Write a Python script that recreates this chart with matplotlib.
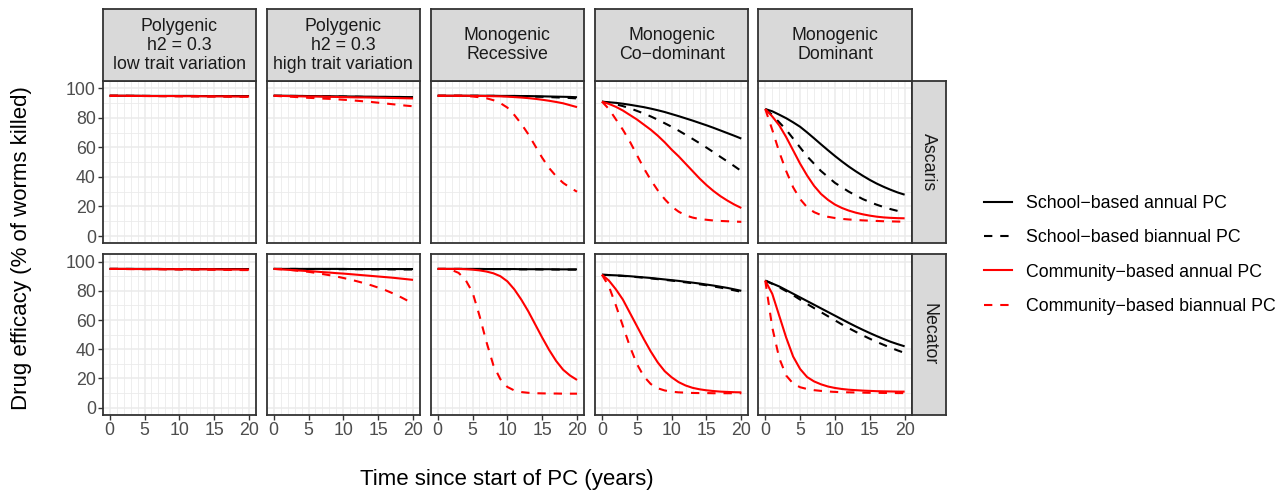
import matplotlib
matplotlib.use("Agg")
import matplotlib.pyplot as plt
from matplotlib.lines import Line2D

plt.rcParams['font.family'] = ['Liberation Sans', 'DejaVu Sans']

# Jahre seit Beginn der PC
years = list(range(21))

col_titles = ["Polygenic\nh2 = 0.3\nlow trait variation",
              "Polygenic\nh2 = 0.3\nhigh trait variation",
              "Monogenic\nRecessive",
              "Monogenic\nCo\u2212dominant",
              "Monogenic\nDominant"]
row_titles = ["Ascaris", "Necator"]
series_labels = ["School\u2212based annual PC", "School\u2212based biannual PC",
                 "Community\u2212based annual PC", "Community\u2212based biannual PC"]

# ---- Ascaris ----
asc_pl_sa = [95.0, 95.0, 95.0, 95.0, 95.0, 94.9, 94.9, 94.9, 94.9, 94.9, 94.9, 94.9, 94.9, 94.8, 94.8, 94.8, 94.8, 94.8, 94.8, 94.8, 94.8]
asc_pl_sb = [95.0, 95.0, 95.0, 94.9, 94.9, 94.9, 94.9, 94.8, 94.8, 94.8, 94.8, 94.8, 94.7, 94.7, 94.7, 94.7, 94.7, 94.6, 94.6, 94.6, 94.6]
asc_pl_ca = [95.0, 95.0, 95.0, 94.9, 94.9, 94.9, 94.8, 94.8, 94.8, 94.8, 94.7, 94.7, 94.7, 94.7, 94.6, 94.6, 94.6, 94.6, 94.5, 94.5, 94.5]
asc_pl_cb = [95.0, 95.0, 94.9, 94.9, 94.9, 94.8, 94.8, 94.8, 94.7, 94.7, 94.7, 94.6, 94.6, 94.6, 94.5, 94.5, 94.5, 94.4, 94.4, 94.3, 94.3]

asc_ph_sa = [95.0, 95.0, 95.0, 94.9, 94.9, 94.8, 94.8, 94.7, 94.7, 94.6, 94.6, 94.5, 94.5, 94.4, 94.4, 94.3, 94.3, 94.2, 94.2, 94.1, 94.1]
asc_ph_sb = [95.0, 95.0, 94.9, 94.9, 94.8, 94.7, 94.7, 94.6, 94.5, 94.5, 94.4, 94.3, 94.3, 94.2, 94.1, 94.0, 93.9, 93.8, 93.7, 93.6, 93.5]
asc_ph_ca = [95.0, 94.9, 94.8, 94.7, 94.6, 94.5, 94.5, 94.4, 94.3, 94.2, 94.1, 94.0, 93.9, 93.9, 93.8, 93.7, 93.6, 93.5, 93.4, 93.3, 93.2]
asc_ph_cb = [95.0, 94.7, 94.5, 94.2, 93.9, 93.6, 93.4, 93.1, 92.9, 92.6, 92.3, 92.0, 91.6, 91.2, 90.8, 90.3, 89.8, 89.3, 88.8, 88.3, 87.9]

asc_mr_sa = [95.0, 95.0, 95.0, 95.0, 95.0, 95.0, 95.0, 95.0, 95.0, 94.9, 94.9, 94.9, 94.8, 94.8, 94.7, 94.6, 94.5, 94.4, 94.3, 94.2, 94.0]
asc_mr_sb = [95.0, 95.0, 95.0, 95.0, 95.0, 95.0, 95.0, 94.9, 94.9, 94.8, 94.8, 94.7, 94.6, 94.5, 94.4, 94.3, 94.1, 93.9, 93.7, 93.5, 93.2]
asc_mr_ca = [95.0, 95.0, 95.0, 95.0, 95.0, 94.9, 94.9, 94.8, 94.7, 94.6, 94.4, 94.1, 93.8, 93.4, 92.9, 92.3, 91.6, 90.8, 89.9, 88.6, 87.3]
asc_mr_cb = [95.0, 95.0, 95.0, 95.0, 94.8, 94.5, 94.0, 93.3, 92.0, 90.0, 87.0, 82.0, 76.0, 69.0, 61.0, 53.0, 46.0, 40.5, 36.0, 32.8, 30.0]

asc_mc_sa = [91.0, 90.6, 90.2, 89.6, 88.9, 88.1, 87.3, 86.3, 85.2, 84.0, 82.6, 81.2, 79.7, 78.2, 76.6, 75.0, 73.3, 71.5, 69.7, 67.9, 66.0]
asc_mc_sb = [91.0, 90.2, 89.2, 88.0, 86.5, 84.8, 83.0, 81.0, 78.8, 76.4, 74.0, 71.4, 68.6, 65.8, 62.9, 59.9, 56.8, 53.6, 50.5, 47.3, 44.0]
asc_mc_ca = [91.0, 89.5, 87.5, 85.0, 82.0, 79.0, 75.5, 72.0, 68.0, 63.5, 58.5, 54.0, 49.0, 44.0, 39.0, 34.5, 30.5, 27.0, 24.0, 21.3, 19.0]
asc_mc_cb = [91.0, 86.0, 79.0, 72.0, 64.0, 55.0, 46.0, 38.0, 31.0, 25.0, 20.0, 16.5, 14.0, 12.5, 11.5, 11.0, 10.5, 10.2, 10.0, 9.8, 9.6]

asc_md_sa = [86.0, 84.5, 82.2, 79.8, 77.0, 74.0, 70.2, 66.2, 62.1, 58.1, 54.2, 50.5, 47.0, 43.8, 40.8, 38.0, 35.5, 33.3, 31.3, 29.5, 28.0]
asc_md_sb = [86.0, 82.0, 77.0, 72.0, 66.0, 60.0, 54.0, 49.0, 44.0, 40.0, 36.0, 33.0, 30.0, 27.5, 25.0, 23.0, 21.2, 19.6, 18.2, 17.0, 16.0]
asc_md_ca = [86.0, 81.0, 75.0, 67.0, 58.0, 49.0, 41.0, 34.0, 28.5, 24.5, 21.3, 19.0, 17.2, 15.8, 14.7, 13.8, 13.1, 12.6, 12.3, 12.1, 12.0]
asc_md_cb = [86.0, 72.0, 57.0, 44.0, 33.0, 25.0, 19.5, 16.2, 14.2, 13.0, 12.2, 11.6, 11.2, 10.9, 10.6, 10.4, 10.2, 10.0, 9.9, 9.8, 9.7]

# ---- Necator ----
nec_pl_sa = [95.0, 95.0, 95.0, 95.0, 95.0, 95.0, 95.0, 95.0, 94.9, 94.9, 94.9, 94.9, 94.9, 94.9, 94.9, 94.9, 94.9, 94.9, 94.9, 94.9, 94.9]
nec_pl_sb = [95.0, 95.0, 95.0, 95.0, 94.9, 94.9, 94.9, 94.9, 94.9, 94.9, 94.8, 94.8, 94.8, 94.8, 94.8, 94.8, 94.8, 94.7, 94.7, 94.7, 94.7]
nec_pl_ca = [95.0, 95.0, 95.0, 94.9, 94.9, 94.9, 94.9, 94.8, 94.8, 94.8, 94.8, 94.8, 94.7, 94.7, 94.7, 94.7, 94.6, 94.6, 94.6, 94.6, 94.5]
nec_pl_cb = [95.0, 95.0, 94.9, 94.9, 94.9, 94.8, 94.8, 94.8, 94.7, 94.7, 94.6, 94.6, 94.6, 94.5, 94.5, 94.4, 94.4, 94.3, 94.3, 94.2, 94.2]

nec_ph_sa = [95.0, 95.0, 95.0, 95.0, 95.0, 95.0, 95.0, 95.0, 95.0, 95.0, 95.0, 94.9, 94.9, 94.9, 94.9, 94.9, 94.9, 94.9, 94.9, 94.9, 94.9]
nec_ph_sb = [95.0, 95.0, 95.0, 95.0, 94.9, 94.9, 94.9, 94.9, 94.9, 94.8, 94.8, 94.8, 94.8, 94.8, 94.7, 94.7, 94.7, 94.7, 94.6, 94.6, 94.6]
nec_ph_ca = [95.0, 94.7, 94.4, 94.1, 93.8, 93.5, 93.2, 92.8, 92.5, 92.1, 91.8, 91.4, 91.0, 90.6, 90.2, 89.8, 89.4, 89.0, 88.5, 88.0, 87.5]
nec_ph_cb = [95.0, 94.8, 94.5, 94.0, 93.5, 93.0, 92.3, 91.5, 90.7, 89.8, 88.8, 87.7, 86.5, 85.2, 83.8, 82.2, 80.5, 78.5, 76.3, 73.8, 71.0]

nec_mr_sa = [95.0, 95.0, 95.0, 95.0, 95.0, 95.0, 95.0, 94.9, 94.9, 94.9, 94.9, 94.9, 94.8, 94.8, 94.8, 94.8, 94.8, 94.7, 94.7, 94.7, 94.7]
nec_mr_sb = [95.0, 95.0, 95.0, 95.0, 95.0, 94.9, 94.9, 94.9, 94.9, 94.8, 94.8, 94.8, 94.7, 94.7, 94.7, 94.6, 94.6, 94.6, 94.5, 94.5, 94.5]
nec_mr_ca = [95.0, 95.0, 95.0, 95.0, 94.8, 94.5, 94.0, 93.2, 92.0, 90.0, 86.5, 81.0, 74.0, 66.0, 57.0, 48.0, 39.5, 32.0, 26.0, 22.0, 19.0]
nec_mr_cb = [95.0, 95.0, 94.3, 92.3, 87.5, 79.0, 63.0, 45.0, 29.0, 19.5, 14.2, 11.8, 10.7, 10.2, 9.9, 9.8, 9.7, 9.7, 9.6, 9.6, 9.6]

nec_mc_sa = [91.0, 90.8, 90.6, 90.3, 90.0, 89.6, 89.2, 88.8, 88.3, 87.8, 87.3, 86.8, 86.2, 85.6, 85.0, 84.3, 83.6, 82.8, 82.0, 81.0, 80.0]
nec_mc_sb = [91.0, 90.8, 90.5, 90.2, 89.8, 89.4, 89.0, 88.5, 88.0, 87.5, 87.0, 86.4, 85.8, 85.2, 84.5, 83.8, 83.0, 82.2, 81.3, 80.3, 79.3]
nec_mc_ca = [91.0, 87.0, 81.0, 74.0, 65.0, 56.0, 47.0, 38.5, 31.0, 25.0, 20.8, 17.5, 15.2, 13.6, 12.6, 11.9, 11.4, 11.0, 10.8, 10.6, 10.5]
nec_mc_cb = [91.0, 83.0, 70.0, 56.0, 42.0, 30.0, 21.5, 16.2, 13.3, 11.8, 11.0, 10.5, 10.3, 10.1, 10.0, 10.0, 9.9, 9.9, 9.9, 9.9, 9.9]

nec_md_sa = [87.0, 85.0, 83.0, 80.5, 78.0, 75.5, 73.0, 70.5, 68.0, 65.5, 63.0, 60.5, 58.0, 55.6, 53.3, 51.1, 49.0, 47.0, 45.1, 43.5, 42.0]
nec_md_sb = [87.0, 84.8, 82.4, 79.8, 77.0, 74.0, 71.0, 68.2, 65.4, 62.6, 59.8, 57.0, 54.4, 51.9, 49.5, 47.2, 45.0, 43.0, 41.0, 39.2, 37.5]
nec_md_ca = [87.0, 78.0, 63.0, 48.0, 35.0, 26.5, 21.0, 18.0, 16.0, 14.5, 13.5, 12.8, 12.3, 12.0, 11.7, 11.5, 11.3, 11.2, 11.1, 11.0, 11.0]
nec_md_cb = [87.0, 55.0, 34.0, 22.0, 16.5, 14.0, 12.8, 12.0, 11.5, 11.1, 10.8, 10.6, 10.5, 10.4, 10.3, 10.2, 10.2, 10.1, 10.1, 10.0, 10.0]

asc_panels = [
    [asc_pl_sa, asc_pl_sb, asc_pl_ca, asc_pl_cb],
    [asc_ph_sa, asc_ph_sb, asc_ph_ca, asc_ph_cb],
    [asc_mr_sa, asc_mr_sb, asc_mr_ca, asc_mr_cb],
    [asc_mc_sa, asc_mc_sb, asc_mc_ca, asc_mc_cb],
    [asc_md_sa, asc_md_sb, asc_md_ca, asc_md_cb],
]
nec_panels = [
    [nec_pl_sa, nec_pl_sb, nec_pl_ca, nec_pl_cb],
    [nec_ph_sa, nec_ph_sb, nec_ph_ca, nec_ph_cb],
    [nec_mr_sa, nec_mr_sb, nec_mr_ca, nec_mr_cb],
    [nec_mc_sa, nec_mc_sb, nec_mc_ca, nec_mc_cb],
    [nec_md_sa, nec_md_sb, nec_md_ca, nec_md_cb],
]
all_rows = [asc_panels, nec_panels]

# Stile
colors = ["black", "black", "#FF0000", "#FF0000"]
dashed = [False, True, False, True]
LW = 1.5
DASH = (4.0, 3.8)
BORDER = "#333333"
STRIP = "#D9D9D9"
GRID = "#EBEBEB"
SMALL = 12.8
TITLE = 16

W, H = 1288, 493
fig = plt.figure(figsize=(W / 100, H / 100), dpi=100)


def px_axes(x0, y0, x1, y1):
    # Pixelkoordinaten (oben links) -> Figure-Koordinaten
    return fig.add_axes([x0 / W, 1 - y1 / H, (x1 - x0) / W, (y1 - y0) / H])


col_left = [102.7, 266.7, 430.7, 595.0, 758.3]
panel_w = 153.3
row_top = [81.0, 254.3]
row_bot = [243.4, 415.0]
strip_top = 9.3
strip_right = 946.0

for r in range(2):
    for c in range(5):
        x0 = col_left[c]
        x1 = x0 + panel_w
        ax = px_axes(x0, row_top[r], x1, row_bot[r])
        for k in range(4):
            ls = (0, DASH) if dashed[k] else "-"
            ax.plot(years, all_rows[r][c][k], color=colors[k], lw=LW,
                    linestyle=ls, solid_capstyle="butt", dash_capstyle="butt")
        ax.set_xlim(-1, 21)
        ax.set_ylim(-5, 105)
        ax.set_xticks([0, 5, 10, 15, 20])
        ax.set_xticks([y for y in years if y % 5 != 0], minor=True)
        ax.set_yticks([0, 20, 40, 60, 80, 100])
        ax.set_yticks([10, 30, 50, 70, 90], minor=True)
        ax.grid(which="major", color=GRID, lw=1.1)
        ax.grid(which="minor", color=GRID, lw=0.6)
        ax.set_axisbelow(True)
        for s in ax.spines.values():
            s.set_color(BORDER)
            s.set_linewidth(1.3)
        ax.tick_params(which="minor", length=0)
        ax.tick_params(which="major", length=3.5, width=1.0, color=BORDER,
                       labelsize=SMALL, labelcolor="#4D4D4D", pad=1.5)
        if c != 0:
            ax.tick_params(axis="y", which="major", length=0, labelleft=False)
        if r != 1:
            ax.tick_params(axis="x", which="major", length=0, labelbottom=False)

        # Streifen oben
        if r == 0:
            sax = px_axes(x0, strip_top, x1, row_top[0])
            sax.set_facecolor(STRIP)
            sax.set_xticks([])
            sax.set_yticks([])
            for s in sax.spines.values():
                s.set_color(BORDER)
                s.set_linewidth(1.3)
            sax.text(0.5, 0.5, col_titles[c], ha="center", va="center",
                     fontsize=SMALL, color="#1A1A1A", linespacing=1.16,
                     transform=sax.transAxes)

    # Streifen rechts
    rax = px_axes(col_left[4] + panel_w, row_top[r], strip_right, row_bot[r])
    rax.set_facecolor(STRIP)
    rax.set_xticks([])
    rax.set_yticks([])
    for s in rax.spines.values():
        s.set_color(BORDER)
        s.set_linewidth(1.3)
    rax.text(0.5, 0.5, row_titles[r], ha="center", va="center", rotation=270,
             fontsize=SMALL, color="#1A1A1A", transform=rax.transAxes)

fig.text(507 / W, 1 - 480 / H, "Time since start of PC (years)",
         ha="center", va="center", fontsize=TITLE)
fig.text(22 / W, 1 - 248 / H, "Drug efficacy (% of worms killed)",
         ha="center", va="center", rotation=90, fontsize=TITLE)

handles = [Line2D([0], [0], color=colors[k], lw=LW,
                  linestyle=(0, DASH) if dashed[k] else "-") for k in range(4)]
fig.legend(handles, series_labels, loc="center left",
           bbox_to_anchor=(975 / W, 1 - 255 / H), frameon=False,
           fontsize=SMALL, handlelength=1.6, handletextpad=0.75,
           labelspacing=0.98, borderpad=0)

fig.savefig("out.png", dpi=100)
